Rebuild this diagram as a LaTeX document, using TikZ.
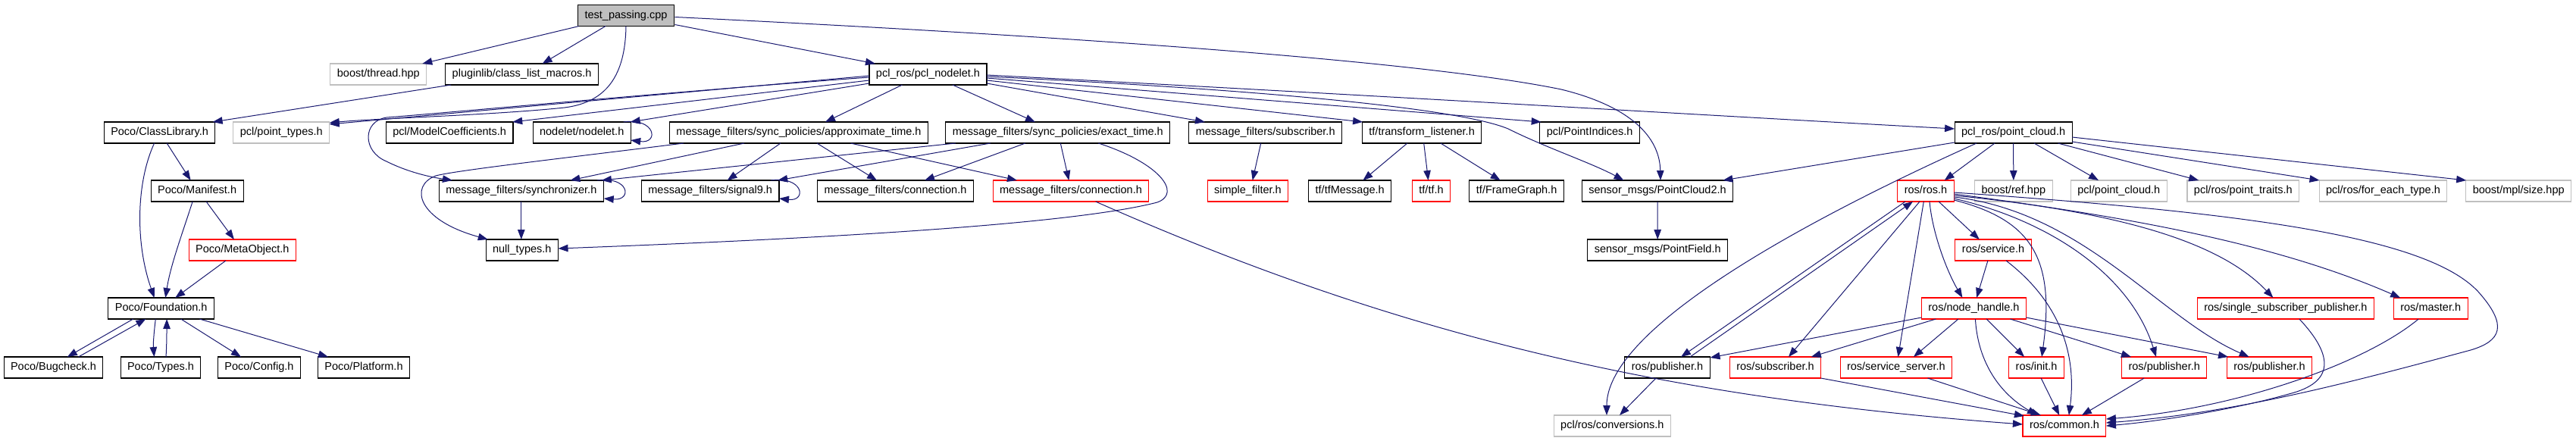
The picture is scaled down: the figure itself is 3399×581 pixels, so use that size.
\documentclass[tikz,border=0pt]{standalone}
\usepackage{fontspec}
\setmainfont{Liberation Sans}
\usetikzlibrary{arrows.meta,calc}
\definecolor{eblue}{HTML}{191970}
\definecolor{lgray}{HTML}{BFBFBF}
\tikzset{
 nd/.style={draw=black, line width=1.1pt, fill=white, minimum height=28pt, inner xsep=9pt, inner ysep=0pt, text height=10.5pt, text depth=3pt, font=\fontsize{14.5}{16}\selectfont},
 gnd/.style={nd, draw=lgray},
 rnd/.style={nd, draw=red},
 rootnd/.style={nd, fill=lgray},
 ed/.style={draw=eblue, line width=1pt, -{Triangle[length=13pt,width=9.5pt]}},
}
\begin{document}
\begin{tikzpicture}[x=1pt,y=-1pt]
\useasboundingbox (0,0) rectangle (3399,581);
% nodes
\node[rootnd] (root) at (826,20.5) {test\_passing.cpp};
\node[gnd] (thread) at (499.3,98) {boost/thread.hpp};
\node[nd] (plugin) at (688.6,98) {pluginlib/class\_list\_macros.h};
\node[nd] (pnod) at (1224.5,98) {pcl\_ros/pcl\_nodelet.h};
\node[nd] (classlib) at (210.6,175) {Poco/ClassLibrary.h};
\node[gnd] (ptypes) at (371.3,175) {pcl/point\_types.h};
\node[nd] (modelc) at (593.2,175) {pcl/ModelCoefficients.h};
\node[nd] (nodelet) at (767.7,175) {nodelet/nodelet.h};
\node[nd] (approx) at (1054,175) {message\_filters/sync\_policies/approximate\_time.h};
\node[nd] (exact) at (1395.8,175) {message\_filters/sync\_policies/exact\_time.h};
\node[nd] (mfsub) at (1669.7,175) {message\_filters/subscriber.h};
\node[nd] (tflist) at (1876.1,175) {tf/transform\_listener.h};
\node[nd] (pidx) at (2097.7,175) {pcl/PointIndices.h};
\node[nd] (pcloud) at (2656.6,175) {pcl\_ros/point\_cloud.h};
\node[nd] (manifest) at (260.1,252) {Poco/Manifest.h};
\node[nd] (sync) at (687.8,252) {message\_filters/synchronizer.h};
\node[nd] (sig9) at (937.2,252) {message\_filters/signal9.h};
\node[nd] (connB) at (1181.5,252) {message\_filters/connection.h};
\node[rnd] (connR) at (1413,252) {message\_filters/connection.h};
\node[rnd] (simple) at (1646.4,252) {simple\_filter.h};
\node[nd] (tfmsg) at (1781.2,252) {tf/tfMessage.h};
\node[rnd] (tftf) at (1888.5,252) {tf/tf.h};
\node[nd] (frame) at (2001.1,252) {tf/FrameGraph.h};
\node[nd] (pc2) at (2187,252) {sensor\_msgs/PointCloud2.h};
\node[rnd] (ros) at (2541,252) {ros/ros.h};
\node[gnd] (bref) at (2656.8,252) {boost/ref.hpp};
\node[gnd] (pclpc) at (2795.8,252) {pcl/point\_cloud.h};
\node[gnd] (ptraits) at (2959.8,252) {pcl/ros/point\_traits.h};
\node[gnd] (foreach) at (3144.5,252) {pcl/ros/for\_each\_type.h};
\node[gnd] (mplsize) at (3323.2,252) {boost/mpl/size.hpp};
\node[rnd] (meta) at (319.9,330) {Poco/MetaObject.h};
\node[nd] (nullt) at (688.8,330) {null\_types.h};
\node[nd] (pfield) at (2187.2,330) {sensor\_msgs/PointField.h};
\node[rnd] (service) at (2630,330) {ros/service.h};
\node[nd] (found) at (212.7,407) {Poco/Foundation.h};
\node[rnd] (nh) at (2604.4,407) {ros/node\_handle.h};
\node[rnd] (ssp) at (3015.9,407) {ros/single\_subscriber\_publisher.h};
\node[rnd] (master) at (3207.2,407) {ros/master.h};
\node[nd] (bug) at (70.5,485) {Poco/Bugcheck.h};
\node[nd] (types) at (212,485) {Poco/Types.h};
\node[nd] (config) at (342,485) {Poco/Config.h};
\node[nd] (platform) at (480,485) {Poco/Platform.h};
\node[nd] (pubB) at (2200,485) {ros/publisher.h};
\node[rnd] (sub) at (2342.5,485) {ros/subscriber.h};
\node[rnd] (ssrv) at (2501.9,485) {ros/service\_server.h};
\node[rnd] (init) at (2687.1,485) {ros/init.h};
\node[rnd] (pubR1) at (2855.7,485) {ros/publisher.h};
\node[rnd] (pubR2) at (2994.5,485) {ros/publisher.h};
\node[gnd] (conv) at (2127.3,562) {pcl/ros/conversions.h};
\node[rnd] (common) at (2723.9,562) {ros/common.h};
% edges from root
\draw[ed] ($(root)+(-62,14)$) -- ($(thread)+(58,-14)$);
\draw[ed] ($(root)+(-27,14)$) -- ($(plugin)+(27,-14)$);
\draw[ed] ($(root)+(64.5,12)$) -- ($(pnod)+(-69.5,-14)$);
\draw[ed] ($(root)+(64.5,2)$) .. controls (1500,52) and (1900,85) .. (2060,118) .. controls (2150,140) and (2190,180) .. ($(pc2)+(4,-14)$);
\draw[ed] ($(root)+(0,14)$) .. controls (825,100) and (800,135) .. (745,142) .. controls (650,152) and (500,156) .. ($(ptypes)+(63.4,-13)$);
% Poco
\draw[ed] ($(plugin)+(-93.5,14)$) -- ($(classlib)+(70,-14)$);
\draw[ed] ($(classlib)+(9.6,14)$) -- ($(manifest)+(-8.5,-14)$);
\draw[ed] ($(classlib)+(-7,14)$) .. controls (180,240) and (178,320) .. ($(found)+(-9,-14)$);
\draw[ed] ($(manifest)+(-6,14)$) .. controls (240,310) and (225,350) .. ($(found)+(5.6,-14)$);
\draw[ed] ($(manifest)+(12,14)$) -- ($(meta)+(-11,-14)$);
\draw[ed] ($(meta)+(-22,14)$) -- ($(found)+(18.5,-14)$);
\draw[ed] ($(found)+(-37,14)$) -- ($(bug)+(18.3,-14)$);
\draw[ed] ($(bug)+(33,-14)$) -- ($(found)+(-20.3,14)$);
\draw[ed] ($(found)+(-7.4,14)$) .. controls (203,440) and (202,455) .. ($(types)+(-8.5,-14)$);
\draw[ed] ($(types)+(7,-14)$) .. controls (220,455) and (220,440) .. ($(found)+(7.4,14)$);
\draw[ed] ($(found)+(26,14)$) -- ($(config)+(-24,-14)$);
\draw[ed] ($(found)+(50.7,14)$) -- ($(platform)+(-47,-14)$);
% pcl_nodelet
\draw[ed] ($(pnod)+(-77.5,2)$) -- ($(ptypes)+(63.4,-11)$);
\draw[ed] ($(pnod)+(-77.5,4)$) .. controls (900,120) and (600,148) .. (510,155) .. controls (478,160) and (478,200) .. (510,213) .. controls (540,228) and (570,234) .. ($(sync)+(-90.8,-14)$);
\draw[ed] ($(pnod)+(-77.5,8)$) -- ($(modelc)+(83,-14)$);
\draw[ed] ($(pnod)+(-77.5,12)$) -- ($(nodelet)+(64,-14)$);
\draw[ed] ($(nodelet)+(55,-14)$) .. controls (865,155) and (870,190) .. ($(nodelet)+(64.5,10)$);
\draw[ed] ($(pnod)+(-34,14)$) -- ($(approx)+(35,-14)$);
\draw[ed] ($(pnod)+(32.4,14)$) -- ($(exact)+(-29.8,-14)$);
\draw[ed] ($(pnod)+(77.5,12)$) -- ($(mfsub)+(-79.7,-14)$);
\draw[ed] ($(pnod)+(77.5,8)$) -- ($(tflist)+(-78,-14)$);
\draw[ed] ($(pnod)+(77.5,5)$) -- ($(pidx)+(-64,-14)$);
\draw[ed] ($(pnod)+(77.5,3)$) .. controls (1700,120) and (1930,145) .. (1990,170) .. controls (2040,195) and (2100,215) .. ($(pc2)+(-44.5,-14)$);
\draw[ed] ($(pnod)+(77.5,1)$) .. controls (1800,125) and (2300,155) .. ($(pcloud)+(-77.5,-5)$);
% approximate_time
\draw[ed] ($(approx)+(-152,14)$) .. controls (750,208) and (600,225) .. (575,232) .. controls (540,245) and (550,290) .. ($(nullt)+(-45,-14)$);
\draw[ed] ($(approx)+(-72,14)$) -- ($(sync)+(64.6,-14)$);
\draw[ed] ($(approx)+(-24,14)$) -- ($(sig9)+(22.4,-14)$);
\draw[ed] ($(approx)+(24,14)$) -- ($(connB)+(-24.5,-14)$);
\draw[ed] ($(approx)+(68.4,14)$) -- ($(connR)+(-71,-14)$);
% exact_time
\draw[ed] ($(exact)+(-135,14)$) -- ($(sync)+(106,-14)$);
\draw[ed] ($(exact)+(-89,14)$) -- ($(sig9)+(89,-14)$);
\draw[ed] ($(exact)+(-43,14)$) -- ($(connB)+(38.5,-14)$);
\draw[ed] ($(exact)+(3.5,14)$) -- ($(connR)+(-2.6,-14)$);
\draw[ed] ($(exact)+(53.5,14)$) .. controls (1530,215) and (1560,255) .. (1527,267) .. controls (1400,300) and (1000,318) .. ($(nullt)+(47.7,-2)$);
% self loops and synchronizer
\draw[ed] ($(sync)+(100,-14)$) .. controls (830,232) and (835,265) .. ($(sync)+(108.9,10)$);
\draw[ed] ($(sync)+(0,14)$) -- ($(nullt)+(-1,-14)$);
\draw[ed] ($(sig9)+(80,-14)$) .. controls (1060,232) and (1065,266) .. ($(sig9)+(90.8,10)$);
\draw[ed] ($(connR)+(32.6,14)$) .. controls (1850,445) and (2200,525) .. ($(common)+(-55,-2)$);
\draw[ed] ($(mfsub)+(-6,14)$) -- ($(simple)+(6.3,-14)$);
% tf
\draw[ed] ($(tflist)+(-19.2,14)$) -- ($(tfmsg)+(17.2,-14)$);
\draw[ed] ($(tflist)+(2.6,14)$) -- ($(tftf)+(-3.9,-14)$);
\draw[ed] ($(tflist)+(24.8,14)$) -- ($(frame)+(-21.4,-14)$);
\draw[ed] ($(pc2)+(0,14)$) -- ($(pfield)+(0,-14)$);
% point_cloud
\draw[ed] ($(pcloud)+(-77.5,13)$) -- ($(pc2)+(86.3,-14)$);
\draw[ed] ($(pcloud)+(-48.6,14)$) .. controls (2450,260) and (2120,420) .. ($(conv)+(-7.3,-14)$);
\draw[ed] ($(pcloud)+(-24.6,14)$) -- ($(ros)+(24.6,-14)$);
\draw[ed] ($(pcloud)+(0,14)$) -- ($(bref)+(0,-14)$);
\draw[ed] ($(pcloud)+(27.4,14)$) -- ($(pclpc)+(-26.8,-14)$);
\draw[ed] ($(pcloud)+(58.8,14)$) -- ($(ptraits)+(-58.6,-14)$);
\draw[ed] ($(pcloud)+(77.5,12)$) -- ($(foreach)+(-84,-14)$);
\draw[ed] ($(pcloud)+(77.5,6)$) -- ($(mplsize)+(-69,-14)$);
% ros.h
\draw[ed] ($(ros)+(-27,14)$) -- ($(pubB)+(18,-14)$);
\draw[ed] ($(pubB)+(30,-14)$) -- ($(ros)+(-17,14)$);
\draw[ed] ($(ros)+(-8,14)$) -- ($(sub)+(17.5,-14)$);
\draw[ed] ($(ros)+(-2.7,14)$) -- ($(ssrv)+(2.6,-14)$);
\draw[ed] ($(ros)+(5,14)$) .. controls (2550,310) and (2570,360) .. ($(nh)+(-15,-14)$);
\draw[ed] ($(ros)+(17,14)$) -- ($(service)+(-18.2,-14)$);
\draw[ed] ($(ros)+(37.2,12)$) .. controls (2680,290) and (2712,340) .. ($(init)+(7,-14)$);
\draw[ed] ($(ros)+(37.2,10)$) .. controls (2700,290) and (2810,360) .. ($(pubR1)+(-10.7,-14)$);
\draw[ed] ($(ros)+(37.2,8)$) .. controls (2750,280) and (2850,420) .. ($(pubR2)+(-26.8,-14)$);
\draw[ed] ($(ros)+(37.2,6)$) .. controls (2800,280) and (2930,320) .. ($(ssp)+(-16.5,-14)$);
\draw[ed] ($(ros)+(37.2,4)$) .. controls (2800,285) and (3000,320) .. ($(master)+(-40,-14)$);
\draw[ed] ($(ros)+(37.2,2)$) .. controls (2950,280) and (3200,310) .. (3270,385) .. controls (3310,430) and (3300,450) .. (3260,462) .. controls (3100,505) and (2950,545) .. ($(common)+(55,-4)$);
% service, node_handle
\draw[ed] ($(service)+(-7.1,14)$) -- ($(nh)+(3.7,-14)$);
\draw[ed] ($(service)+(17,14)$) .. controls (2720,400) and (2740,470) .. ($(common)+(6,-14)$);
\draw[ed] ($(nh)+(-69,12)$) -- ($(pubB)+(56.5,-13)$);
\draw[ed] ($(nh)+(-50,14)$) -- ($(sub)+(47.3,-14)$);
\draw[ed] ($(nh)+(-20.4,14)$) -- ($(ssrv)+(23,-14)$);
\draw[ed] ($(nh)+(2,14)$) .. controls (2610,480) and (2640,520) .. ($(common)+(-36,-14)$);
\draw[ed] ($(nh)+(16.7,14)$) -- ($(init)+(-16,-14)$);
\draw[ed] ($(nh)+(48,14)$) -- ($(pubR1)+(-43.7,-14)$);
\draw[ed] ($(nh)+(69,12)$) -- ($(pubR2)+(-54.5,-14)$);
% into common.h
\draw[ed] ($(sub)+(60,14)$) -- ($(common)+(-53,-13)$);
\draw[ed] ($(ssrv)+(41.5,14)$) -- ($(common)+(-31,-14)$);
\draw[ed] ($(init)+(6,14)$) -- ($(common)+(-6.7,-14)$);
\draw[ed] ($(pubR1)+(-26.5,14)$) -- ($(common)+(23,-14)$);
\draw[ed] ($(ssp)+(18,14)$) .. controls (3080,470) and (3080,505) .. (3020,520) .. controls (2950,540) and (2850,556) .. ($(common)+(55,0)$);
\draw[ed] ($(master)+(-16,14)$) .. controls (3120,480) and (2950,540) .. ($(common)+(55,-9)$);
\draw[ed] ($(pubB)+(-15,14)$) -- ($(conv)+(9.7,-14)$);
\end{tikzpicture}
\end{document}
